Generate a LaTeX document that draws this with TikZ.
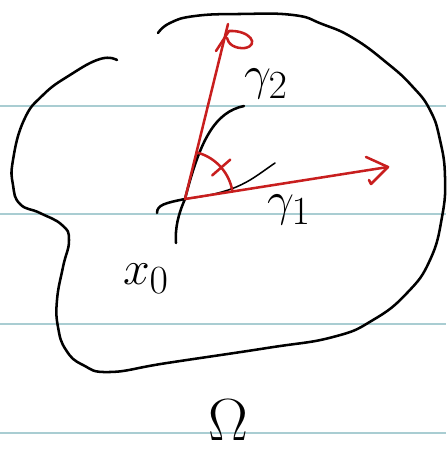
\documentclass[tikz,border=0pt]{standalone}
\definecolor{ruleblue}{HTML}{A9CDD2}
\definecolor{inkred}{HTML}{C81E1E}
\usepackage{amsmath,amssymb}
\usepackage{tikz}
\usetikzlibrary{positioning}
\newcommand{\bigmath}[2]{\scalebox{#1}{$#2$}}

\begin{document}
\begin{tikzpicture}[
        x=0.025cm, y=-0.025cm,
        ink/.style={line width=1.8pt, line cap=round, line join=round},
        thinink/.style={line width=1.1pt, line cap=round},
        redink/.style={ink, color=inkred},
        rule/.style={line width=2.1pt, color=ruleblue},
        lbl/.style={font=\Huge, inner sep=0pt}
      ]
        \useasboundingbox (0,0) rectangle (446,451);
        \foreach \y in {106,214,324,433}
          \draw[rule] (0,\y) -- (446,\y);

        \draw[ink] plot[smooth, tension=0.8] coordinates {
          (158,33) (170,23) (195,16) (240,14) (293,15) (322,24) (353,38)
          (387,63) (412,86) (430,110) (440,140) (445,177) (442,217)
          (430,260) (407,293) (373,320) (333,337) (267,348) (167,363)
          (110,372) (83,365) (66,350) (58,327) (57,300) (63,267) (69,240)
          (62,225) (40,213) (20,204) (13,185) (13,160)
          (24,120) (43,95) (70,75) (100,59) (117,60)};

        \coordinate (x0) at (185,199);
        \coordinate (g2tip) at (228,24);
        \coordinate (g1tip) at (388,167);

        \draw[ink] (x0) .. controls (200,140) and (215,112) .. (244,106);
        \draw[thinink] (x0) .. controls (240,192) and (250,180) .. (275,163);
        \draw[ink] (157,213) .. controls (157,205) and (165,203) .. (x0);
        \draw[ink] (x0) .. controls (178,215) and (175,228) .. (176,243);

        \draw[redink] (x0) -- (g2tip);
        \draw[redink] (x0) -- (g1tip);
        \draw[redink] (366,157) -- (g1tip) -- (371,184) -- (369,180);
        \draw[redink] (216,51) -- (229,31) .. controls (250,30) and (260,45) .. (245,48)
          .. controls (235,49) and (228,44) .. (227,38);
        \draw[redink] (x0) ++(-9:48) arc[start angle=-9, end angle=-76, radius=48];
        \draw[redink] (x0) ++(-41:36) -- ++(-41:24);

        \node[lbl] (g2lbl) at (266,84) {\bigmath{1.37}{\gamma_2}};
        \node[lbl] (g1lbl) at (289,210) {\bigmath{1.37}{\gamma_1}};
        \node[lbl] (x0lbl) at (146,279) {\bigmath{1.37}{x_0}};
        \node[lbl] (omega) at (228,420) {\bigmath{1.7}{\Omega}};
      \end{tikzpicture}
\end{document}
